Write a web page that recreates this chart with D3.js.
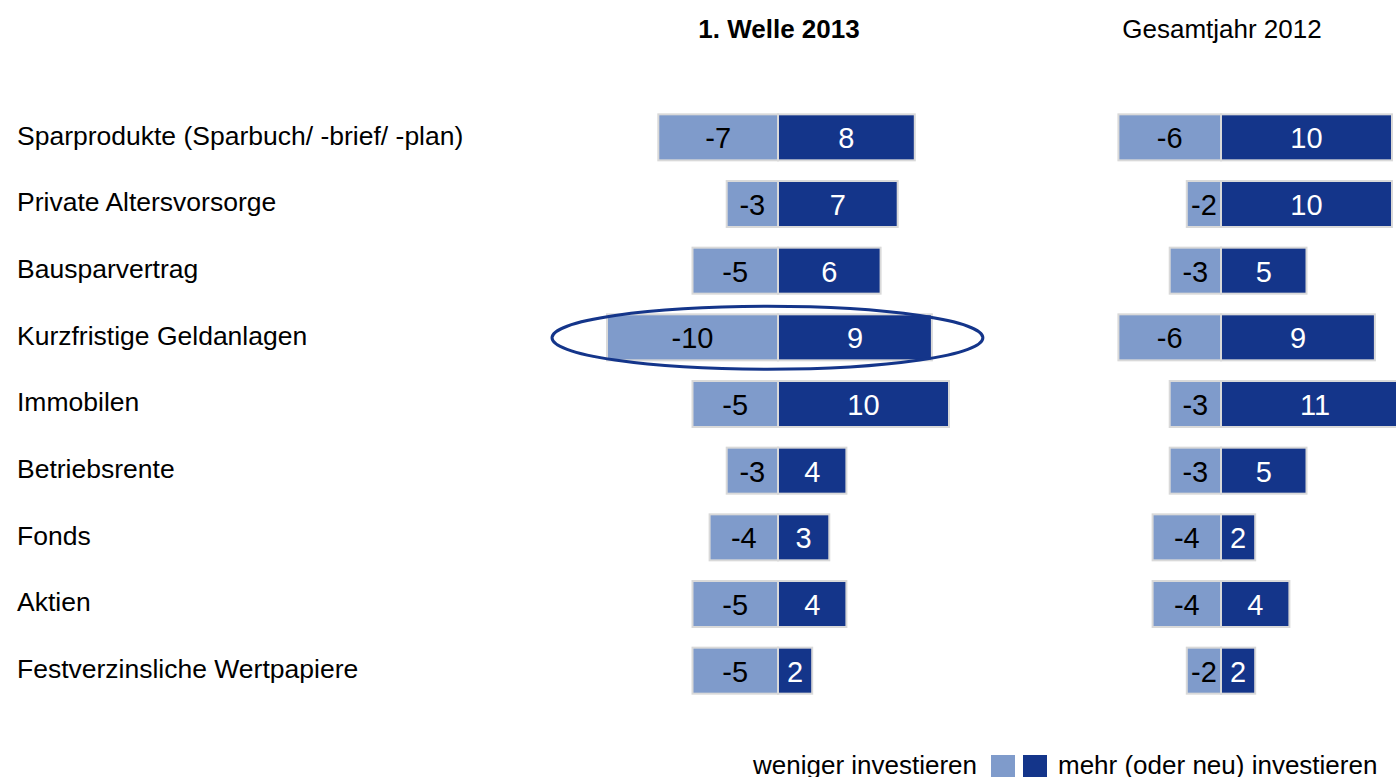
<!DOCTYPE html>
<html>
<head>
<meta charset="utf-8">
<script src="https://cdn.jsdelivr.net/npm/d3@7"></script>
<style>
  html, body { margin: 0; padding: 0; background: #ffffff; overflow: hidden; }
  svg { display: block; font-family: Arial, "Liberation Sans", sans-serif; }
</style>
</head>
<body>
<svg id="chart" width="1396" height="777"></svg>
<script>
// Anlageformen
const categories = [
  "Sparprodukte (Sparbuch/ -brief/ -plan)",
  "Private Altersvorsorge",
  "Bausparvertrag",
  "Kurzfristige Geldanlagen",
  "Immobilen",
  "Betriebsrente",
  "Fonds",
  "Aktien",
  "Festverzinsliche Wertpapiere"
];

// 1. Welle 2013
const weniger2013 = [-7, -3, -5, -10, -5, -3, -4, -5, -5];
const mehr2013    = [8, 7, 6, 9, 10, 4, 3, 4, 2];

// Gesamtjahr 2012
const weniger2012 = [-6, -2, -3, -6, -3, -3, -4, -4, -2];
const mehr2012    = [10, 10, 5, 9, 11, 5, 2, 4, 2];

const panelTitles = ["1. Welle 2013", "Gesamtjahr 2012"];
const legendLabels = ["weniger investieren", "mehr (oder neu) investieren"];
const highlighted = "Kurzfristige Geldanlagen";

const colLight = "#7f9bcb";
const colDark = "#14358a";
const colBorder = "#d9d9d9";

const svg = d3.select("#chart");

const y = d3.scaleBand()
  .domain(categories)
  .range([104, 704])
  .paddingInner(0.31)
  .paddingOuter(0.155);

const panels = [
  { title: panelTitles[0], bold: true,  neg: weniger2013, pos: mehr2013,
    x: d3.scaleLinear().domain([-10, 10]).range([607, 949]) },
  { title: panelTitles[1], bold: false, neg: weniger2012, pos: mehr2012,
    x: d3.scaleLinear().domain([-10, 10]).range([1050, 1392]) }
];

// Category labels
svg.append("g")
  .selectAll("text")
  .data(categories)
  .join("text")
  .attr("x", 17)
  .attr("y", d => y(d) + y.bandwidth() / 2 - 2)
  .attr("dy", "0.35em")
  .attr("font-size", 26.5)
  .attr("fill", "#000")
  .text(d => d);

panels.forEach(p => {
  const g = svg.append("g");
  const x = p.x;

  g.append("text")
    .attr("x", x(0) + 1)
    .attr("y", 38)
    .attr("text-anchor", "middle")
    .attr("font-size", 26)
    .attr("font-weight", p.bold ? "bold" : "normal")
    .attr("fill", "#000")
    .text(p.title);

  const rows = categories.map((c, i) => ({ cat: c, neg: p.neg[i], pos: p.pos[i] }));

  // weniger investieren
  g.selectAll("rect.neg")
    .data(rows)
    .join("rect")
    .attr("class", "neg")
    .attr("x", d => x(d.neg))
    .attr("y", d => y(d.cat))
    .attr("width", d => x(0) - x(d.neg))
    .attr("height", y.bandwidth())
    .attr("fill", colLight)
    .attr("stroke", colBorder)
    .attr("stroke-width", 2);

  // mehr (oder neu) investieren
  g.selectAll("rect.pos")
    .data(rows)
    .join("rect")
    .attr("class", "pos")
    .attr("x", x(0))
    .attr("y", d => y(d.cat))
    .attr("width", d => x(d.pos) - x(0))
    .attr("height", y.bandwidth())
    .attr("fill", colDark)
    .attr("stroke", colBorder)
    .attr("stroke-width", 2);

  g.selectAll("text.negval")
    .data(rows)
    .join("text")
    .attr("class", "negval")
    .attr("x", d => (x(d.neg) + x(0)) / 2)
    .attr("y", d => y(d.cat) + y.bandwidth() / 2 + 1)
    .attr("dy", "0.35em")
    .attr("text-anchor", "middle")
    .attr("font-size", 29)
    .attr("fill", "#000")
    .text(d => d.neg);

  g.selectAll("text.posval")
    .data(rows)
    .join("text")
    .attr("class", "posval")
    .attr("x", d => (x(d.pos) + x(0)) / 2)
    .attr("y", d => y(d.cat) + y.bandwidth() / 2 + 1)
    .attr("dy", "0.35em")
    .attr("text-anchor", "middle")
    .attr("font-size", 29)
    .attr("fill", "#ffffff")
    .text(d => d.pos);
});

// Hervorhebung der kurzfristigen Geldanlagen (1. Welle 2013)
{
  const x = panels[0].x;
  const i = categories.indexOf(highlighted);
  const left = x(weniger2013[i]) - 55;
  const right = x(mehr2013[i]) + 51;
  svg.append("ellipse")
    .attr("cx", (left + right) / 2)
    .attr("cy", y(highlighted) + y.bandwidth() / 2 + 0.5)
    .attr("rx", (right - left) / 2)
    .attr("ry", 31.5)
    .attr("fill", "none")
    .attr("stroke", colDark)
    .attr("stroke-width", 3);
}

// Legende
const legend = svg.append("g");
legend.append("text")
  .attr("x", 977).attr("y", 774)
  .attr("text-anchor", "end")
  .attr("font-size", 26)
  .attr("fill", "#000")
  .text(legendLabels[0]);
legend.append("rect")
  .attr("x", 991).attr("y", 755).attr("width", 24).attr("height", 24)
  .attr("fill", colLight);
legend.append("rect")
  .attr("x", 1023).attr("y", 755).attr("width", 24).attr("height", 24)
  .attr("fill", colDark);
legend.append("text")
  .attr("x", 1058).attr("y", 774)
  .attr("font-size", 26)
  .attr("fill", "#000")
  .text(legendLabels[1]);
</script>
</body>
</html>
